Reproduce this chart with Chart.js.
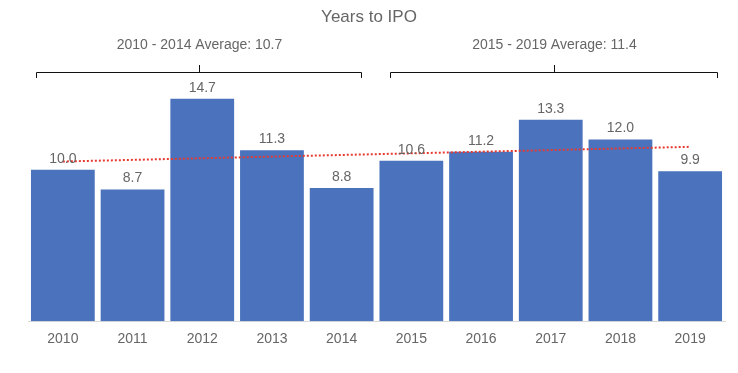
<!DOCTYPE html>
<html>
<head>
<meta charset="utf-8">
<title>Years to IPO</title>
<script src="https://cdn.jsdelivr.net/npm/chart.js@4.4.1/dist/chart.umd.min.js"></script>
<style>
  html, body { margin: 0; padding: 0; background: #fff; }
  #wrap { width: 738px; height: 373px; position: relative; }
</style>
</head>
<body>
<div id="wrap"><canvas id="chart"></canvas></div>
<script>
// Data.
var years = ['2010', '2011', '2012', '2013', '2014', '2015', '2016', '2017', '2018', '2019'];
var yearsToIpo = [10.0, 8.7, 14.7, 11.3, 8.8, 10.6, 11.2, 13.3, 12.0, 9.9];
// Trend line: only the two ends are visible, the rest is a straight run.
var trendLine = [10.55, null, null, null, null, null, null, null, null, 11.52];
var groupLabels = ['2010 - 2014 Average: 10.7', '2015 - 2019 Average: 11.4'];
var groupRanges = [[0, 4], [5, 9]];

var FONT = '"Liberation Sans", Arial, Helvetica, sans-serif';
var GREY = '#666666';

// Labels above each bar.
var barLabels = {
    id: 'barLabels',
    afterDatasetsDraw: function(chart) {
        var ctx = chart.ctx;
        var meta = chart.getDatasetMeta(1);
        ctx.save();
        ctx.font = '14px ' + FONT;
        ctx.fillStyle = GREY;
        ctx.textAlign = 'center';
        ctx.textBaseline = 'bottom';
        meta.data.forEach(function(bar, i) {
            ctx.fillText(yearsToIpo[i].toFixed(1), bar.x, bar.y - 4);
        });
        ctx.restore();
    }
};

// Title, group captions and brackets.
var header = {
    id: 'header',
    afterDraw: function(chart) {
        var ctx = chart.ctx;
        var x = chart.scales.x;
        var offsets = [[-27, 19], [-21, 27]];
        ctx.save();
        ctx.fillStyle = GREY;
        ctx.textAlign = 'center';
        ctx.textBaseline = 'middle';
        ctx.font = '17px ' + FONT;
        ctx.fillText('Years to IPO', 369, 17);

        ctx.font = '14px ' + FONT;
        ctx.strokeStyle = '#111';
        ctx.lineWidth = 1;
        groupRanges.forEach(function(r, i) {
            var left = Math.round(x.getPixelForValue(r[0]) + offsets[i][0]) + 0.5;
            var right = Math.round(x.getPixelForValue(r[1]) + offsets[i][1]) + 0.5;
            var mid = Math.round((left + right) / 2) + 0.5;
            var y = 72.5;
            ctx.fillText(groupLabels[i], mid, 45);
            ctx.beginPath();
            ctx.moveTo(left, 78);
            ctx.lineTo(left, y);
            ctx.lineTo(right, y);
            ctx.lineTo(right, 78);
            ctx.moveTo(mid, y);
            ctx.lineTo(mid, 65);
            ctx.stroke();
        });
        ctx.restore();
    }
};

new Chart(document.getElementById('chart'), {
    data: {
        labels: years,
        datasets: [{
            type: 'line',
            data: trendLine,
            spanGaps: true,
            borderColor: '#e8392f',
            borderWidth: 2,
            borderDash: [2, 2],
            pointRadius: 0,
            fill: false,
            order: 0
        }, {
            type: 'bar',
            data: yearsToIpo,
            backgroundColor: '#4a72bd',
            categoryPercentage: 1.0,
            barPercentage: 0.915,
            order: 1
        }]
    },
    options: {
        responsive: true,
        maintainAspectRatio: false,
        animation: false,
        layout: { padding: { top: 79, left: 28, right: 13, bottom: 15 } },
        plugins: {
            legend: { display: false },
            title: { display: false },
            tooltip: { enabled: false }
        },
        scales: {
            x: {
                grid: { display: false, drawTicks: false },
                border: { color: '#d9d9d9', width: 1 },
                ticks: { color: GREY, font: { family: FONT, size: 14 }, padding: 10 }
            },
            y: {
                display: false,
                min: 0,
                max: 16
            }
        }
    },
    plugins: [barLabels, header]
});
</script>
</body>
</html>
